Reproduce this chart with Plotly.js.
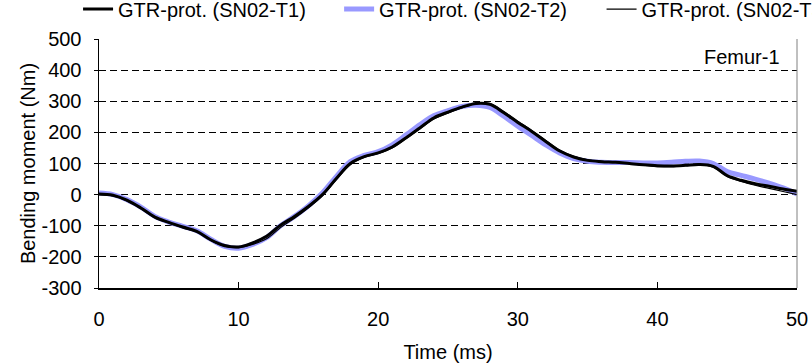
<!DOCTYPE html>
<html>
<head>
<meta charset="utf-8">
<script src="https://cdn.plot.ly/plotly-3.0.1.min.js"></script>
<style>html,body{margin:0;padding:0;background:#fff;}#chart{width:812px;height:364px;}</style>
</head>
<body>
<div id="chart"></div>
<script>
const timeMs = [0,1,2,3,4,5,6,7,8,9,10,11,12,13,14,15,16,17,18,19,20,21,22,23,24,25,26,27,28,29,30,31,32,33,34,35,36,37,38,39,40,41,42,43,44,45,46,47,48,49,50];
const seriesNames = ['GTR-prot. (SN02-T1)', 'GTR-prot. (SN02-T2)', 'GTR-prot. (SN02-T3)'];
const t1 = [2,-2,-18,-43,-72,-89,-104,-118,-145,-163,-168,-155,-134,-98,-70,-38,0,52,100,122,134,153,183,215,247,265,281,293,290,263,232,203,171,140,121,110,106,104,100,96,93,92,94,97,91,61,46,35,27,18,11];
const t2 = [5,0,-16,-40,-70,-88,-102,-116,-143,-166,-172,-160,-138,-100,-70,-36,5,58,106,126,138,160,192,225,254,270,283,287,280,252,220,190,160,134,116,107,104,103,103,102,102,104,107,108,100,74,62,50,37,22,2];
const t3 = [0,-4,-20,-45,-74,-91,-106,-120,-147,-167,-170,-160,-142,-106,-76,-42,-4,48,96,120,132,150,180,212,243,262,279,292,293,267,236,206,174,143,123,112,107,104,100,95,90,90,93,97,88,58,42,30,20,10,0];
const yTicks = [-300,-200,-100,0,100,200,300,400,500];
const xTicks = [0,10,20,30,40,50];

const FONT = 'Arial, "Liberation Sans", sans-serif';
const FS = 20;

const data = [
  {x: timeMs, y: t2, name: seriesNames[1], mode: 'lines', line: {color: '#9999ff', width: 5, shape: 'spline'}, legend: 'legend2'},
  {x: timeMs, y: t1, name: seriesNames[0], mode: 'lines', line: {color: '#000000', width: 3, shape: 'spline'}, legend: 'legend'},
  {x: timeMs, y: t3, name: seriesNames[2], mode: 'lines', line: {color: '#000000', width: 1.2, shape: 'spline'}, legend: 'legend3'}
];

const legBase = {orientation: 'h', xanchor: 'left', yanchor: 'middle', y: 1.12, bgcolor: 'rgba(0,0,0,0)', borderwidth: 0, font: {family: FONT, size: FS, color: '#000'}};

const layout = {
  width: 812, height: 364,
  margin: {l: 99, r: 15, t: 39, b: 76, autoexpand: false},
  paper_bgcolor: '#fff', plot_bgcolor: '#fff',
  font: {family: FONT, size: FS, color: '#000'},
  showlegend: true,
  legend: Object.assign({}, legBase, {x: -0.03}),
  legend2: Object.assign({}, legBase, {x: 0.344}),
  legend3: Object.assign({}, legBase, {x: 0.72}),
  xaxis: {
    range: [0, 50], tickvals: xTicks, ticktext: xTicks.map(String),
    showgrid: false, zeroline: false,
    showline: true, linecolor: '#000', linewidth: 1.5,
    ticks: 'inside', ticklen: 6, tickcolor: '#000', tickwidth: 1,
    ticklabelstandoff: 12,
    tickfont: {family: FONT, size: FS, color: '#000'},
    title: {text: 'Time (ms)', font: {family: FONT, size: FS, color: '#000'}, standoff: 16}
  },
  yaxis: {
    range: [-300, 500], tickvals: yTicks, ticktext: yTicks.map(String),
    showgrid: true, gridcolor: '#000', gridwidth: 1, griddash: '7px,4px',
    zeroline: false,
    showline: true, linecolor: '#000', linewidth: 1.5,
    ticks: 'outside', ticklen: 4, tickcolor: '#000', tickwidth: 1,
    ticklabelstandoff: 8,
    tickfont: {family: FONT, size: FS, color: '#000'},
    title: {text: 'Bending moment (Nm)', font: {family: FONT, size: FS, color: '#000'}, standoff: 0}
  },
  shapes: [
    {type: 'line', xref: 'paper', yref: 'paper', x0: 1, x1: 1, y0: 0, y1: 1, line: {color: '#808080', width: 1}}
  ],
  annotations: [
    {text: 'Femur-1', xref: 'paper', yref: 'paper', x: 0.9785, y: 0.928, xanchor: 'right', yanchor: 'middle', showarrow: false, font: {family: FONT, size: FS, color: '#000'}}
  ]
};

Plotly.newPlot('chart', data, layout, {staticPlot: true, displayModeBar: false});
</script>
</body>
</html>
